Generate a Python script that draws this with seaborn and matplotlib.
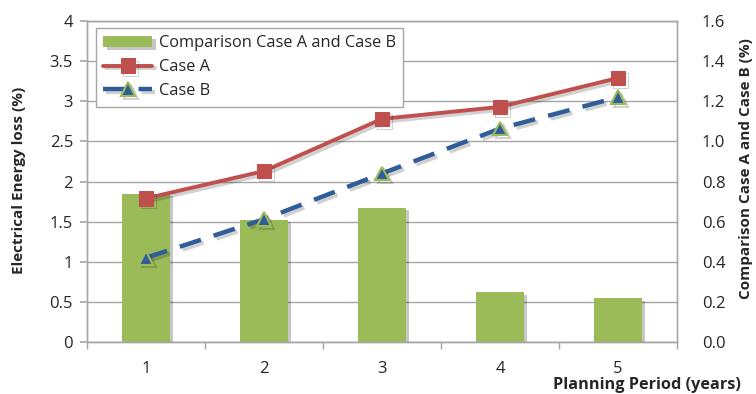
import numpy as np
import pandas as pd
import matplotlib
matplotlib.use("Agg")
import matplotlib.pyplot as plt
import matplotlib.patheffects as pe
import seaborn as sns

# Data
periods = ["1", "2", "3", "4", "5"]
case_a = [1.79, 2.13, 2.78, 2.93, 3.29]
case_b = [1.05, 1.53, 2.10, 2.66, 3.05]
comparison = [0.74, 0.61, 0.67, 0.25, 0.22]
left_ticks = [0, 0.5, 1, 1.5, 2, 2.5, 3, 3.5, 4]
right_ticks = [0.0, 0.2, 0.4, 0.6, 0.8, 1.0, 1.2, 1.4, 1.6]

sns.set_theme(style="white")
plt.rcParams["font.family"] = ["Open Sans", "DejaVu Sans"]

df = pd.DataFrame({"period": periods, "A": case_a, "B": case_b, "cmp": comparison})
xpos = np.arange(len(periods))

fig = plt.figure(figsize=(7.56, 3.94), dpi=100)
ax = fig.add_axes([87 / 756, 52 / 394, 590 / 756, 321 / 394])
ax2 = ax.twinx()

grid_col = "#A6A6A6"
txt_col = "#262626"
tick_fs = 12
label_fs = 11

# bars on the secondary (right) axis, drawn underneath
shadow = [pe.SimplePatchShadow(offset=(2.5, -2), shadow_rgbFace="#000000", alpha=0.22), pe.Normal()]
sns.barplot(data=df, x="period", y="cmp", color="#9BBB59", saturation=1, width=0.4,
            ax=ax2, label="Comparison Case A and Case B")
for p in ax2.patches:
    p.set_path_effects(shadow)
    p.set_edgecolor("none")
ax2.set_ylim(0, 1.6)
ax2.set_yticks(right_ticks)
ax2.set_yticklabels([f"{v:.1f}" for v in right_ticks])
ax2.yaxis.grid(True, color=grid_col, linewidth=1)
ax2.set_axisbelow(True)
ax2.set_ylabel("Comparison Case A and Case B (%)", fontsize=label_fs, fontweight="bold",
               color=txt_col)
ax2.yaxis.set_label_coords(1.105, 0.539)
ax2.tick_params(axis="y", length=0, pad=18, labelsize=tick_fs, labelcolor=txt_col)

# lines on the primary (left) axis, drawn on top
ax.set_zorder(ax2.get_zorder() + 1)
ax.patch.set_visible(False)
line_shadow = [pe.SimpleLineShadow(offset=(2, -2), alpha=0.2), pe.Normal()]
sns.lineplot(x=xpos, y=df["A"], ax=ax, color="#C0504D", linewidth=2.8, marker="s",
             markersize=10.5, markeredgecolor="#C0504D", label="Case A",
             path_effects=line_shadow)
sns.lineplot(x=xpos, y=df["B"], ax=ax, color="#2F5D9A", linewidth=3.2, marker="^",
             markersize=10, markeredgecolor="#9BBB59", markeredgewidth=1.5,
             label="Case B", path_effects=line_shadow)
ax.lines[-1].set_dashes([5, 3])
ax.set_ylim(0, 4)
ax.set_yticks(left_ticks)
ax.set_yticklabels([f"{v:g}" for v in left_ticks])
ax.set_xlim(-0.5, len(periods) - 0.5)
ax2.set_xlim(-0.5, len(periods) - 0.5)
ax.set_xticks(xpos)
ax.set_xticklabels(periods)
ax.set_xticks(np.arange(-0.5, len(periods)), minor=True)
ax.tick_params(axis="x", which="major", length=0, pad=14, labelsize=tick_fs, labelcolor=txt_col)
ax.tick_params(axis="x", which="minor", length=5, color=grid_col, direction="out", bottom=True)
ax.tick_params(axis="y", length=5, color=grid_col, direction="out", left=True,
               pad=5, labelsize=tick_fs, labelcolor=txt_col)
ax.set_xlabel("")
ax2.set_xlabel("")
ax.set_ylabel("Electrical Energy loss (%)", fontsize=label_fs, fontweight="bold",
              color=txt_col)
ax.yaxis.set_label_coords(-0.103, 0.505)

for a in (ax, ax2):
    for s in a.spines.values():
        s.set_color(grid_col)
        s.set_linewidth(1)

# combined legend
h1, l1 = ax2.get_legend_handles_labels()
h2, l2 = ax.get_legend_handles_labels()
if ax2.get_legend():
    ax2.get_legend().remove()
leg = ax.legend(h1 + h2, l1 + l2, loc="upper left", bbox_to_anchor=(0.015, 0.978),
                fontsize=11.8, frameon=True, fancybox=False, framealpha=1,
                edgecolor=grid_col, handlelength=3.0, borderpad=0.45,
                labelspacing=0.48, handletextpad=0.4, borderaxespad=0)
for t in leg.get_texts():
    t.set_color(txt_col)

fig.text(741 / 756, 1 / 394, "Planning Period (years)", ha="right", va="bottom",
         fontsize=11.7, fontweight="bold", color=txt_col)

fig.savefig("out.png", dpi=100)
